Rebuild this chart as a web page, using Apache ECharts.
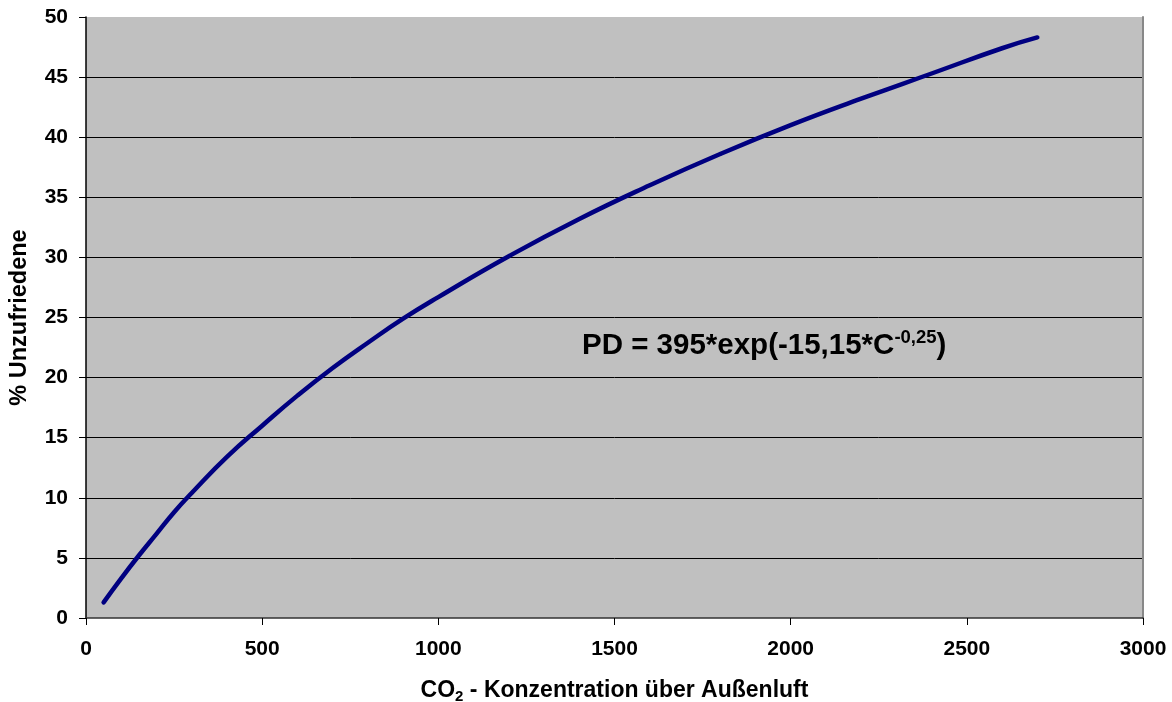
<!DOCTYPE html>
<html><head><meta charset="utf-8">
<script src="https://cdn.jsdelivr.net/npm/echarts@6/dist/echarts.min.js"></script>
<style>html,body{margin:0;padding:0;background:#fff}#c{width:1172px;height:702px}</style>
</head><body><div id="c"></div>
<script>
const co2 = [50,100,150,200,250,300,400,500,600,700,800,900,1000,1200,1400,1600,1800,2000,2200,2400,2600,2700];
const pd  = [1.3,3.3,5.2,7.0,8.8,10.4,13.4,16.0,18.5,20.8,22.9,24.9,26.7,30.1,33.2,36.0,38.6,41.0,43.2,45.3,47.4,48.3];
const xTitle = ['CO','2',' - Konzentration über Außenluft'];
const yTitle = '% Unzufriedene';
const formula = ['PD = 395*exp(-15,15*C','-0,25',')'];

const font = 'Liberation Sans, Arial, sans-serif';
const chart = echarts.init(document.getElementById('c'));
chart.setOption({
  animation:false,
  grid:{left:86,right:29,top:17,bottom:84,show:true,backgroundColor:'#C0C0C0',borderWidth:0,
    containLabel:false,outerBoundsMode:'none'},
  xAxis:{type:'value',min:0,max:3000,interval:500,
    axisLine:{lineStyle:{color:'#333',width:1.5}},
    axisTick:{show:true,inside:false,length:7,lineStyle:{color:'#000'}},
    axisLabel:{margin:21,color:'#000',fontFamily:font,fontWeight:'bold',fontSize:21,formatter:v=>String(v)},
    splitLine:{show:false},
    name:'{a|'+xTitle[0]+'}{s|'+xTitle[1]+'}{a|'+xTitle[2]+'}',
    nameLocation:'middle',nameGap:59,
    nameTextStyle:{rich:{
      a:{fontFamily:font,fontWeight:'bold',fontSize:23,color:'#000'},
      s:{fontFamily:font,fontWeight:'bold',fontSize:15,color:'#000',padding:[12,0,0,0]}
    }}
  },
  yAxis:[{type:'value',min:0,max:50,interval:5,
    axisLine:{show:true,lineStyle:{color:'#000',width:1.5}},
    axisTick:{show:true,length:7,lineStyle:{color:'#000'}},
    axisLabel:{margin:18,color:'#000',fontFamily:font,fontWeight:'bold',fontSize:21},
    splitLine:{show:true,showMaxLine:false,showMinLine:false,lineStyle:{color:'#000',width:1}},
    name:yTitle,nameLocation:'middle',nameGap:54,
    nameTextStyle:{fontFamily:font,fontWeight:'bold',fontSize:23.5,color:'#000'}
  },{type:'value',min:0,max:50,interval:5,position:'right',
    axisLine:{show:true,lineStyle:{color:'#888',width:2}},
    axisTick:{show:false},axisLabel:{show:false},splitLine:{show:false}
  }],
  series:[{type:'line',data:co2.map((c,i)=>[c,pd[i]]),smooth:true,showSymbol:false,
    lineStyle:{color:'#000080',width:4.5,cap:'round'}}],
  graphic:[{type:'text',x:582,y:346,style:{
    verticalAlign:'middle',
    text:'{a|'+formula[0]+'}{s|'+formula[1]+'}{a|'+formula[2]+'}',
    rich:{
      a:{fontFamily:font,fontWeight:'bold',fontSize:29.5,fill:'#000'},
      s:{fontFamily:font,fontWeight:'bold',fontSize:18.5,fill:'#000',padding:[0,0,16,0]}
    }}}]
});
</script></body></html>
